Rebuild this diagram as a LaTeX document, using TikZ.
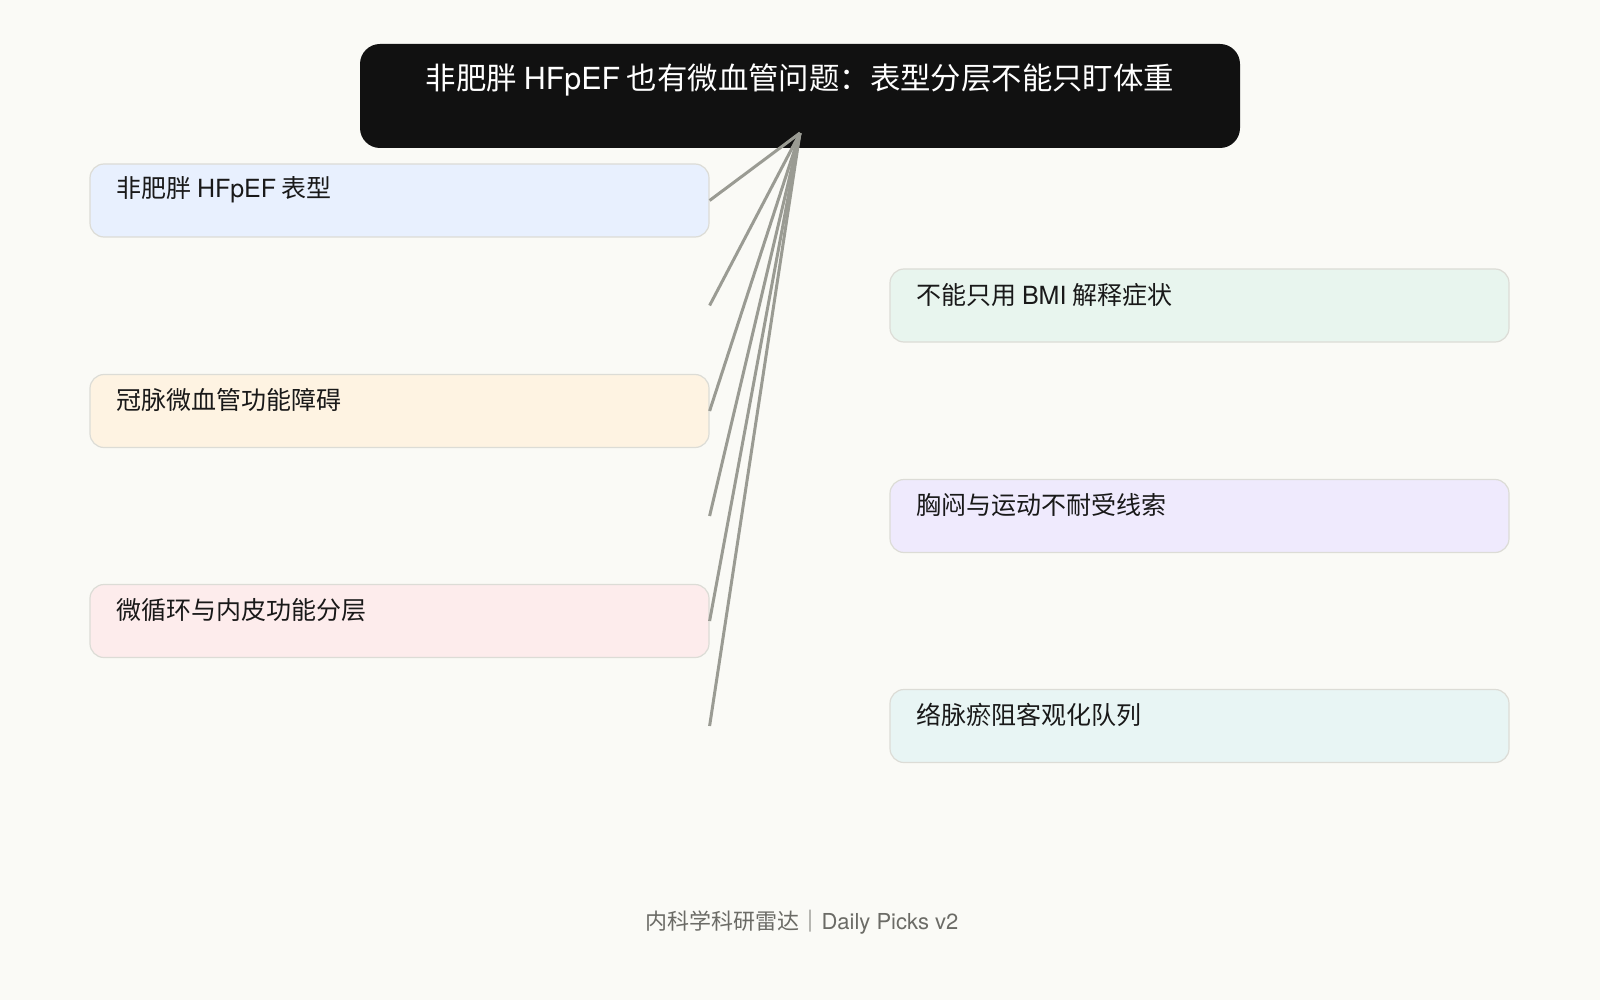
\documentclass[tikz,border=0pt]{standalone}
\usepackage{fontspec}
\setmainfont{Noto Sans CJK SC}
\newfontfamily\latf{TeX Gyre Heros}
\newcommand{\lt}[1]{{\latf #1}}
\definecolor{bgc}{HTML}{FAFAF6}
\definecolor{titlec}{HTML}{111111}
\definecolor{linec}{HTML}{9A9B93}
\definecolor{edgec}{HTML}{DCDCD6}
\definecolor{footc}{HTML}{6B6B66}
\definecolor{cblue}{HTML}{E8F0FE}
\definecolor{corange}{HTML}{FEF3E2}
\definecolor{cpink}{HTML}{FDECEC}
\definecolor{cgreen}{HTML}{E8F5EE}
\definecolor{cpurple}{HTML}{EFEAFD}
\definecolor{cteal}{HTML}{E8F5F4}
\tikzset{
  titlebox/.style={draw=none, fill=titlec, rounded corners=10pt, minimum width=440pt, minimum height=52pt, inner sep=0pt},
  itembox/.style={draw=edgec, line width=0.6pt, rounded corners=7pt, minimum width=309.5pt, minimum height=36.5pt, inner sep=0pt},
  itemtext/.style={anchor=west, inner sep=0pt, font=\fontsize{12.5pt}{14pt}\selectfont, text=black!90},
  conn/.style={draw=linec, line width=1.5pt},
}
\begin{document}
\begin{tikzpicture}[x=0.5pt,y=-0.5pt]
\fill[bgc] (0,0) rectangle (1600,1000);
\useasboundingbox (0,0) rectangle (1600,1000);
\node[titlebox] (title) at (800,96) {};
\node[inner sep=0pt, text=white, font=\fontsize{15.2pt}{18pt}\selectfont] (titletext) at (800,80) {非肥胖 \lt{HFpEF} 也有微血管问题：表型分层不能只盯体重};
\node[itembox, fill=cblue] (l1) at (399.5,200.5) {};
\node[itembox, fill=cgreen] (r1) at (1199.5,305.5) {};
\node[itembox, fill=corange] (l2) at (399.5,411) {};
\node[itembox, fill=cpurple] (r2) at (1199.5,516) {};
\node[itembox, fill=cpink] (l3) at (399.5,621) {};
\node[itembox, fill=cteal] (r3) at (1199.5,726) {};
\node[itemtext] (t1) at (116,190) {非肥胖 \lt{HFpEF} 表型};
\node[itemtext] (t2) at (916,295) {不能只用 \lt{BMI} 解释症状};
\node[itemtext] (t3) at (116,400) {冠脉微血管功能障碍};
\node[itemtext] (t4) at (916,505) {胸闷与运动不耐受线索};
\node[itemtext] (t5) at (116,610) {微循环与内皮功能分层};
\node[itemtext] (t6) at (916,715) {络脉瘀阻客观化队列};
\coordinate (hub) at (800,133);
\draw[conn] (hub) -- (l1.east);
\draw[conn] (hub) -- (l1.east |- r1.east);
\draw[conn] (hub) -- (l2.east);
\draw[conn] (hub) -- (l1.east |- r2.east);
\draw[conn] (hub) -- (l3.east);
\draw[conn] (hub) -- (l1.east |- r3.east);
\node[inner sep=0pt, text=footc, font=\fontsize{11pt}{12pt}\selectfont] (foot) at (802,922) {内科学科研雷达｜\lt{Daily Picks v2}};
\end{tikzpicture}
\end{document}
